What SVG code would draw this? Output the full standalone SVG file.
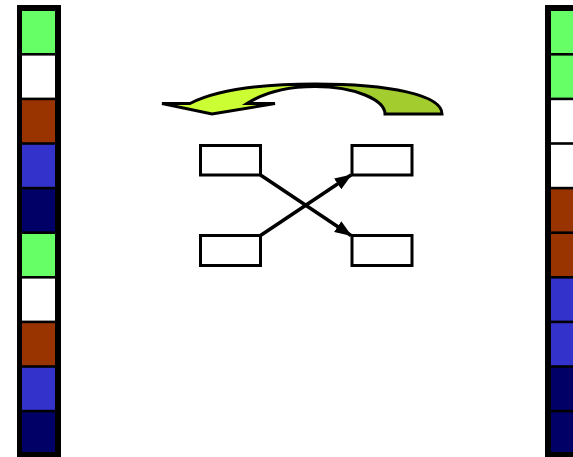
<svg xmlns="http://www.w3.org/2000/svg" width="573" height="457" viewBox="0 0 573 457">
<style>
.g{fill:#66FF66}.w{fill:#FFFFFF}.b{fill:#993300}.u{fill:#3333CC}.n{fill:#000066}
.box{fill:#FFFFFF;stroke:#000;stroke-width:3}
.ln{fill:none;stroke:#000;stroke-width:3.5}
</style>
<defs>
<marker id="ah" markerUnits="userSpaceOnUse" markerWidth="17" markerHeight="13" refX="16" refY="6.5" orient="auto">
<path d="M0,0 L17,6.5 L0,13 Z" fill="#000"/>
</marker>
<linearGradient id="cg" gradientUnits="userSpaceOnUse" x1="160" y1="0" x2="445" y2="0">
<stop offset="0" stop-color="#CCFF33"/><stop offset="0.56" stop-color="#CCFF33"/>
<stop offset="0.56" stop-color="#A3CC2E"/><stop offset="1" stop-color="#A3CC2E"/>
</linearGradient>
</defs>
<rect width="573" height="457" fill="#FFFFFF"/>
<g id="left-column">
<rect x="17" y="5" width="44" height="452" fill="#000"/>
<rect class="g" x="22" y="11" width="33" height="42"/>
<rect class="w" x="22" y="55.6" width="33" height="42"/>
<rect class="b" x="22" y="100.2" width="33" height="42"/>
<rect class="u" x="22" y="144.8" width="33" height="42"/>
<rect class="n" x="22" y="189.4" width="33" height="42"/>
<rect class="g" x="22" y="234" width="33" height="42"/>
<rect class="w" x="22" y="278.6" width="33" height="42"/>
<rect class="b" x="22" y="323.2" width="33" height="42"/>
<rect class="u" x="22" y="367.8" width="33" height="42"/>
<rect class="n" x="22" y="412.4" width="33" height="39.6"/>
</g>
<g id="right-column">
<rect x="545" y="5" width="40" height="452" fill="#000"/>
<rect class="g" x="551" y="11" width="33" height="42"/>
<rect class="g" x="551" y="55.6" width="33" height="42"/>
<rect class="w" x="551" y="100.2" width="33" height="42"/>
<rect class="w" x="551" y="144.8" width="33" height="42"/>
<rect class="b" x="551" y="189.4" width="33" height="42"/>
<rect class="b" x="551" y="234" width="33" height="42"/>
<rect class="u" x="551" y="278.6" width="33" height="42"/>
<rect class="u" x="551" y="323.2" width="33" height="42"/>
<rect class="n" x="551" y="367.8" width="33" height="42"/>
<rect class="n" x="551" y="412.4" width="33" height="39.6"/>
</g>
<g id="curved-arrow">
<path d="M162,103.5 L190,103.5 C220,88 270,84 315,84 C390,84 442,95 442,114 L385,114 C385,100 355,86.5 315,86.5 C285,86.5 262,94 247,103.5 L275,103.5 L212,114 Z" fill="url(#cg)" stroke="#000" stroke-width="3" stroke-linejoin="miter"/>
</g>
<g id="box-tl"><rect class="box" x="200.5" y="145.5" width="60" height="29.5"/></g>
<g id="box-tr"><rect class="box" x="352" y="145.5" width="60" height="29.5"/></g>
<g id="box-bl"><rect class="box" x="200.5" y="235.5" width="60" height="30"/></g>
<g id="box-br"><rect class="box" x="352" y="235.5" width="60" height="30"/></g>
<g id="connectors">
<line class="ln" x1="260.5" y1="175" x2="351" y2="235.5" marker-end="url(#ah)"/>
<line class="ln" x1="260.5" y1="235.5" x2="351" y2="175" marker-end="url(#ah)"/>
</g>
</svg>
